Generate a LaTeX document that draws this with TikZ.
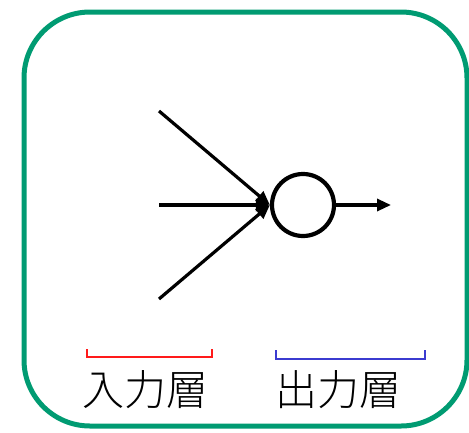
\documentclass[tikz,border=0pt]{standalone}
\usepackage{fontspec}
\usetikzlibrary{arrows.meta,positioning}
\newfontfamily\jpfont{Noto Sans CJK JP Light}
\definecolor{FrameGreen}{HTML}{009B72}
\definecolor{BraceRed}{HTML}{FF1A1A}
\definecolor{BraceBlue}{HTML}{3B3BD0}
\tikzset{>={Triangle[length=14pt,width=12pt]},frame/.style={draw=FrameGreen,line width=5pt,
 rounded corners=66pt},neuron/.style={circle,draw,line width=4.2pt,minimum size=62pt,
 inner sep=0pt},link/.style={line width=3.2pt,->},layer/.style={font=\jpfont\fontsize{42pt}{44pt}\selectfont,
 inner sep=0pt},bracket/.style={line width=1.6pt}}
\begin{document}
\begin{tikzpicture}[x=1pt,y=-1pt]
\useasboundingbox (0,0) rectangle (469,432);
\draw[frame] (24,12) rectangle (467,426);
\node[neuron] (n) at (303,205) {};
\coordinate (in1) at (159,111);
\coordinate (in2) at (159,205);
\coordinate (in3) at (159,299);
\coordinate (out) at (391,205);
\draw[link] (in1) -- (n.west);
\draw[link] (in2) -- (n.west);
\draw[link] (in3) -- (n.west);
\draw[link] (n) -- (out);
\node[layer] (inlabel) at (145,390) {入力層};
\node[layer] (outlabel) at (338,390) {出力層};
\draw[bracket,BraceRed] (87,349) |- (212,357) -- (212,349);
\draw[bracket,BraceBlue] (276,350) |- (425,359) -- (425,350);
\end{tikzpicture}
\end{document}
